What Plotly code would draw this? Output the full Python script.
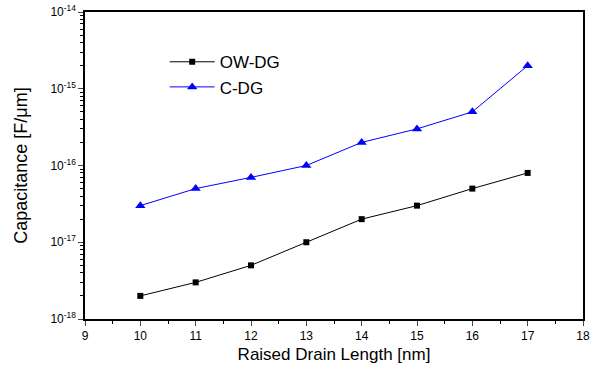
import plotly.graph_objects as go

x_vals = [10, 11, 12, 13, 14, 15, 16, 17]
ow_dg = [2e-18, 3e-18, 5e-18, 1e-17, 2e-17, 3e-17, 5e-17, 8e-17]
c_dg = [3e-17, 5e-17, 7e-17, 1e-16, 2e-16, 3e-16, 5e-16, 2e-15]
x_ticks = [9, 10, 11, 12, 13, 14, 15, 16, 17, 18]
y_tickvals = [1e-18, 1e-17, 1e-16, 1e-15, 1e-14]
y_ticktext = ["10<sup>-18</sup>", "10<sup>-17</sup>", "10<sup>-16</sup>", "10<sup>-15</sup>", "10<sup>-14</sup>"]

font = "Liberation Sans, Arial, sans-serif"

fig = go.Figure()
fig.add_trace(go.Scatter(x=x_vals, y=ow_dg, mode="lines+markers", name="OW-DG",
                         line=dict(color="black", width=1),
                         marker=dict(symbol="square", size=6, color="black")))
fig.add_trace(go.Scatter(x=x_vals, y=c_dg, mode="lines+markers", name="C-DG",
                         line=dict(color="#0000FF", width=1),
                         marker=dict(symbol="triangle-up", size=9, color="#0000FF")))

fig.update_layout(
    width=591, height=373,
    margin=dict(l=85, r=8, t=12, b=54),
    plot_bgcolor="white", paper_bgcolor="white",
    font=dict(family=font, size=12, color="black"),
    showlegend=True,
    legend=dict(x=0.16, y=0.895, xanchor="left", yanchor="top",
                font=dict(size=17, family=font), bgcolor="rgba(0,0,0,0)",
                itemwidth=45, tracegroupgap=0),
    xaxis=dict(range=[9, 18], tickvals=x_ticks, ticks="outside", ticklen=5, tickwidth=1,
               showline=True, linecolor="black", linewidth=1.5, mirror=True,
               showgrid=False, zeroline=False, automargin=False,
               minor=dict(ticks="outside", dtick=0.5, ticklen=3, tickcolor="black", showgrid=False),
               tickfont=dict(size=12),
               title=dict(text="Raised Drain Length [nm]", font=dict(size=17), standoff=6)),
    yaxis=dict(type="log", range=[-18, -14], tickvals=y_tickvals, ticktext=y_ticktext,
               ticks="outside", ticklen=5, tickwidth=1,
               showline=True, linecolor="black", linewidth=1.5, mirror=True,
               showgrid=False, zeroline=False, automargin=False,
               minor=dict(ticks="outside", dtick="D1", ticklen=3, tickcolor="black", showgrid=False),
               tickfont=dict(size=12),
               title=dict(text="Capacitance [F/μm]", font=dict(size=18), standoff=18)),
    xaxis2=dict(overlaying="x", side="top", range=[9, 18], tickvals=x_ticks,
                ticks="inside", ticklen=3, tickwidth=1, tickcolor="black",
                showticklabels=False, showgrid=False, zeroline=False, showline=False,
                automargin=False,
                minor=dict(ticks="inside", dtick=0.5, ticklen=2, tickcolor="black", showgrid=False)),
    yaxis2=dict(overlaying="y", side="right", type="log", range=[-18, -14], tickvals=y_tickvals,
                ticks="inside", ticklen=3, tickwidth=1, tickcolor="black",
                showticklabels=False, showgrid=False, zeroline=False, showline=False,
                automargin=False,
                minor=dict(ticks="inside", dtick="D1", ticklen=2, tickcolor="black", showgrid=False)),
)

fig.write_html("out.html", config={"displayModeBar": False},
               post_script="document.body.style.margin='0';document.body.style.overflow='hidden';")
